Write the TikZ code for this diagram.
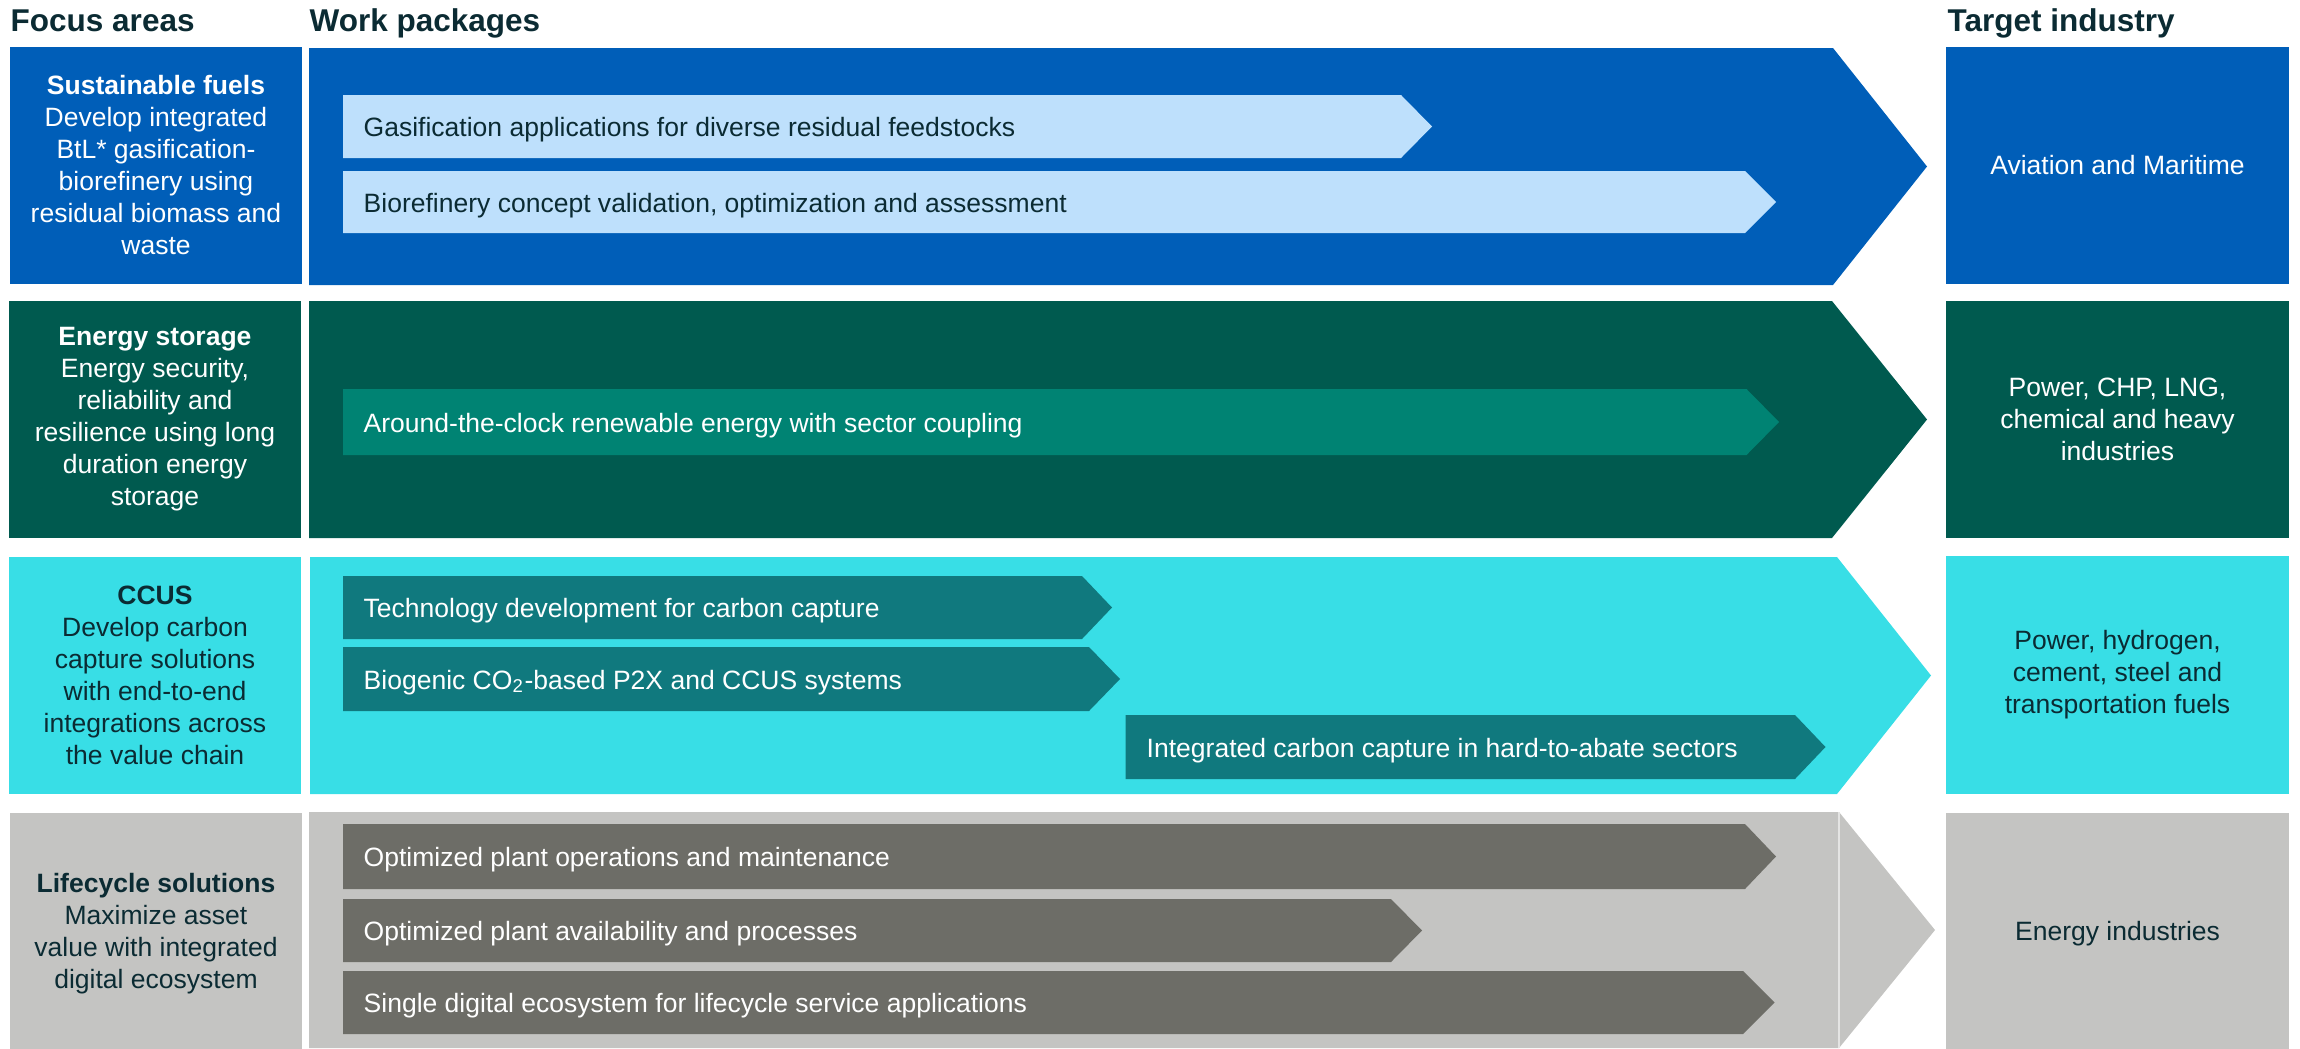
\documentclass[tikz,border=0pt]{standalone}
\usepackage{fontspec}
\setmainfont{Liberation Sans}
\definecolor{cdark}{HTML}{0B2B33}
\definecolor{cblue}{HTML}{005EB8}
\definecolor{clight}{HTML}{BEE0FC}
\definecolor{cgreen}{HTML}{005A4F}
\definecolor{cgreenmid}{HTML}{008373}
\definecolor{ccyan}{HTML}{38DEE6}
\definecolor{cteal}{HTML}{10797E}
\definecolor{cgray}{HTML}{C4C4C2}
\definecolor{cgraydark}{HTML}{6D6D67}
\begin{document}
\begin{tikzpicture}[x=0.01cm,y=-0.01cm,
  bodyfont/.style={font=\fontsize{7.54pt}{9.1pt}\selectfont},
  head/.style={font=\fontsize{8.96pt}{10pt}\selectfont\bfseries, anchor=base west, inner sep=0pt, text=cdark},
  sidebox/.style={bodyfont, align=center, inner sep=0pt, minimum height=2.37cm},
  focusbox/.style={sidebox, minimum width=2.92cm},
  targetbox/.style={sidebox, minimum width=3.43cm},
  wptext/.style={bodyfont, anchor=base west, inner sep=0pt},
]
\useasboundingbox (0,0) rectangle (2300,1048);

% headings
\node[head] (hfocus) at (10,31) {Focus areas};
\node[head] (hwork) at (309,31) {Work packages};
\node[head] (htarget) at (1947,31) {Target industry};

% ---------- Row 1: Sustainable fuels ----------
\node[focusbox, fill=cblue, text=white] (f1) at (156,165.5)
  {\textbf{Sustainable fuels}\\Develop integrated\\BtL* gasification-\\biorefinery using\\residual biomass and\\waste};
\fill[cblue] (309,48) -- (1833,48) -- (1927,166.5) -- (1833,285) -- (309,285) -- cycle;
\node[targetbox, fill=cblue, text=white] (t1) at (2117.5,165.5) {Aviation and Maritime};
\fill[clight] (343,95) -- (1401,95) -- (1432,126.5) -- (1401,158) -- (343,158) -- cycle;
\node[wptext, text=cdark] (w11) at (363,136.5) {Gasification applications for diverse residual feedstocks};
\fill[clight] (343,171) -- (1745,171) -- (1776,202) -- (1745,233) -- (343,233) -- cycle;
\node[wptext, text=cdark] (w12) at (363,212) {Biorefinery concept validation, optimization and assessment};

% ---------- Row 2: Energy storage ----------
\node[focusbox, fill=cgreen, text=white] (f2) at (155,419.5)
  {\textbf{Energy storage}\\Energy security,\\reliability and\\resilience using long\\duration energy\\storage};
\fill[cgreen] (309,301) -- (1832,301) -- (1927,419.5) -- (1832,538) -- (309,538) -- cycle;
\node[targetbox, fill=cgreen, text=white] (t2) at (2117.5,419.5) {Power, CHP, LNG,\\chemical and heavy\\industries};
\fill[cgreenmid] (343,389) -- (1746.5,389) -- (1779,422) -- (1746.5,455) -- (343,455) -- cycle;
\node[wptext, text=white] (w21) at (363,432) {Around-the-clock renewable energy with sector coupling};

% ---------- Row 3: CCUS ----------
\node[focusbox, fill=ccyan, text=cdark] (f3) at (155,675.5)
  {\textbf{CCUS}\\Develop carbon\\capture solutions\\with end-to-end\\integrations across\\the value chain};
\fill[ccyan] (310,557) -- (1837,557) -- (1931,675.5) -- (1837,794) -- (310,794) -- cycle;
\node[targetbox, fill=ccyan, text=cdark] (t3) at (2117.5,675) {Power, hydrogen,\\cement, steel and\\transportation fuels};
\fill[cteal] (343,576) -- (1082,576) -- (1112,607.5) -- (1082,639) -- (343,639) -- cycle;
\node[wptext, text=white] (w31) at (363,617.5) {Technology development for carbon capture};
\fill[cteal] (343,647) -- (1089,647) -- (1120,679) -- (1089,711) -- (343,711) -- cycle;
\node[wptext, text=white] (w32) at (363,689) {Biogenic CO\textsubscript{2}-based P2X and CCUS systems};
\fill[cteal] (1125.5,715) -- (1795,715) -- (1825.5,747) -- (1795,779) -- (1125.5,779) -- cycle;
\node[wptext, text=white] (w33) at (1146,757) {Integrated carbon capture in hard-to-abate sectors};

% ---------- Row 4: Lifecycle solutions ----------
\node[focusbox, fill=cgray, text=cdark, minimum height=2.42cm] (f4) at (156,934)
  {\textbf{Lifecycle solutions}\\Maximize asset\\value with integrated\\digital ecosystem};
\fill[cgray] (309,812) -- (1839,812) -- (1935,930) -- (1839,1048) -- (309,1048) -- cycle;
\draw[white!55!cgray, line width=0.4pt] (1839,812) -- (1839,1048);
\node[targetbox, fill=cgray, text=cdark, minimum height=2.42cm] (t4) at (2117.5,934) {Energy industries};
\fill[cgraydark] (343,824) -- (1745,824) -- (1776,856.5) -- (1745,889) -- (343,889) -- cycle;
\node[wptext, text=white] (w41) at (363,866.5) {Optimized plant operations and maintenance};
\fill[cgraydark] (343,899) -- (1391,899) -- (1422,930.5) -- (1391,962) -- (343,962) -- cycle;
\node[wptext, text=white] (w42) at (363,940.5) {Optimized plant availability and processes};
\fill[cgraydark] (343,971) -- (1743,971) -- (1774.5,1002.5) -- (1743,1034) -- (343,1034) -- cycle;
\node[wptext, text=white] (w43) at (363,1012.5) {Single digital ecosystem for lifecycle service applications};
\end{tikzpicture}
\end{document}
